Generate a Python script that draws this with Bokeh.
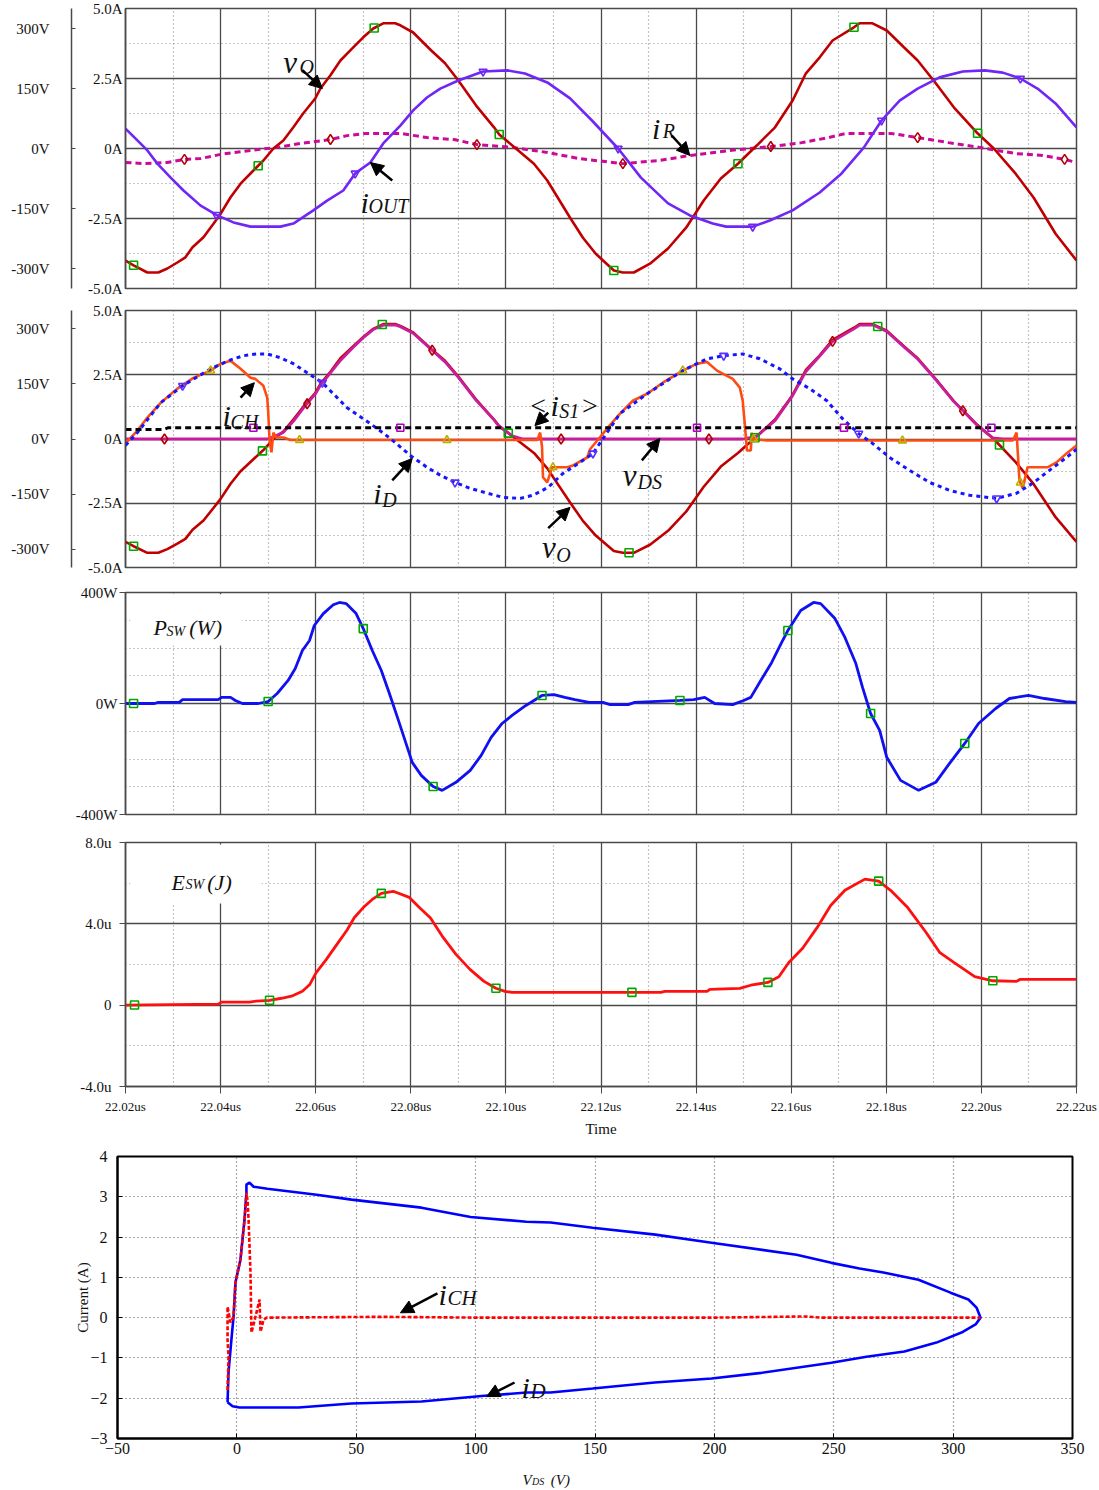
import numpy as np
from bokeh.plotting import figure
from bokeh.layouts import column
from bokeh.models import (Range1d, LinearAxis, FixedTicker, Grid, Label, Arrow,
                          NormalHead, BoxAnnotation)
from bokeh.embed import file_html
from bokeh.resources import INLINE

SERIF = "Liberation Serif"
MAJ = "#4a4a4a"
MINC = "#8a8a8a"

# ---------------- time axis (ns after 22.00 us) ----------------
time_major = [20, 40, 60, 80, 100, 120, 140, 160, 180, 200, 220]
time_minor = [30, 50, 70, 90, 110, 130, 150, 170, 190, 210]
time_labels = ["22.02us", "22.04us", "22.06us", "22.08us", "22.10us", "22.12us",
               "22.14us", "22.16us", "22.18us", "22.20us", "22.22us"]

# ---------------- panel 1 / 2 : output voltage v_O (V) ----------------
t_vo = [20.0, 21.7, 24.6, 26.9, 28.8, 30.9, 32.6, 34.1, 36.4, 38.5,
        40.0, 42.1, 44.2, 46.9, 49.0, 51.1, 53.2, 55.3, 57.4, 59.9,
        61.0, 63.1, 65.2, 67.9, 70.0, 72.1, 74.2, 76.7, 77.8, 80.5,
        84.3, 87.2, 90.0, 93.7, 97.5, 98.6, 102.1, 105.9, 108.7, 113.5,
        116.2, 118.9, 122.7, 124.6, 126.9, 130.3, 134.1, 137.9, 141.6, 145.2,
        148.8, 152.8, 156.6, 160.3, 163.1, 166.0, 168.7, 173.2, 174.4, 177.1,
        180.1, 183.7, 186.6, 190.4, 194.2, 199.2, 202.6, 207.2, 211.0, 215.6,
        220.0]
v_o = [-280, -292, -310, -310, -300, -285, -272, -247, -222, -188,
       -163, -122, -88, -55, -30, 0, 20, 53, 88, 125,
       150, 183, 220, 253, 278, 300, 313, 313, 308, 290,
       245, 213, 170, 108, 53, 35, 0, -38, -80, -173,
       -223, -263, -305, -310, -310, -288, -250, -198, -130, -75,
       -38, 8, 53, 120, 188, 228, 270, 303, 313, 313,
       295, 253, 220, 163, 103, 38, 0, -63, -123, -213,
       -280]

# output current i_OUT (A)
t_iout = [20.0, 22.5, 24.6, 26.7, 29.5, 32.2, 35.8, 39.3, 42.7, 46.3,
          52.6, 55.3, 59.5, 62.4, 65.8, 68.3, 71.5, 74.2, 77.8, 80.5,
          83.4, 86.2, 90.0, 95.2, 100.3, 104.0, 108.7, 113.5, 118.1, 123.6,
          128.4, 134.1, 138.7, 143.5, 146.3, 151.9, 155.5, 160.3, 166.0, 170.6,
          175.3, 179.0, 182.8, 186.6, 191.2, 196.1, 200.7, 204.5, 208.2, 211.8,
          215.6, 220.0]
i_out = [0.71, 0.29, -0.07, -0.54, -1.04, -1.5, -2.04, -2.39, -2.64, -2.79,
         -2.79, -2.68, -2.21, -1.86, -1.5, -0.89, -0.5, 0.18, 0.82, 1.36,
         1.82, 2.14, 2.43, 2.75, 2.79, 2.68, 2.36, 1.79, 1.0, 0.0,
         -1.04, -1.96, -2.39, -2.68, -2.79, -2.79, -2.57, -2.21, -1.57, -0.89,
         0.04, 1.0, 1.71, 2.14, 2.54, 2.75, 2.79, 2.71, 2.5, 2.14,
         1.61, 0.75]

# resistor current i_R (A)
t_ir = [20.0, 23.8, 28.8, 32.4, 35.8, 40.0, 46.3, 51.9, 56.8, 63.1,
        66.6, 70.8, 77.8, 83.4, 89.1, 93.9, 101.3, 108.7, 115.4, 124.6,
        132.2, 138.7, 147.1, 155.7, 162.2, 167.9, 171.5, 180.9, 186.6, 193.1,
        199.6, 207.2, 212.9, 217.5, 220.0]
i_r = [-0.5, -0.54, -0.5, -0.39, -0.36, -0.21, -0.07, 0.04, 0.18, 0.32,
       0.46, 0.54, 0.54, 0.39, 0.32, 0.14, 0.04, -0.14, -0.36, -0.54,
       -0.43, -0.25, -0.07, 0.07, 0.21, 0.39, 0.54, 0.54, 0.39, 0.21,
       0.04, -0.18, -0.25, -0.39, -0.5]

# ---------------- panel 2 ----------------
t_vds = [20.0, 49.8, 51.1, 53.2, 55.3, 57.4, 59.9, 61.0, 63.1, 65.2,
         67.9, 70.0, 72.1, 74.2, 76.7, 77.8, 80.5, 84.3, 87.2, 90.0,
         93.7, 97.5, 98.6, 101.5, 103.6, 149.8, 152.8, 156.6, 160.3, 163.1,
         166.0, 168.7, 173.2, 174.4, 177.1, 180.1, 183.7, 186.6, 190.4, 194.2,
         199.2, 202.4, 204.5, 220.0]
v_ds = [0, 0, 6, 18, 48, 84, 122, 146, 180, 214,
        250, 276, 298, 310, 311, 306, 288, 244, 210, 168,
        106, 52, 34, 8, 0, 0, 8, 50, 118, 184,
        226, 266, 300, 310, 311, 293, 251, 218, 162, 102,
        36, 3, 0, 0]

t_ich = [20.0, 22.5, 24.6, 27.4, 30.9, 34.3, 37.9, 40.0, 42.1, 44.2,
         46.3, 47.3, 49.0, 49.8, 50.0, 50.3, 50.7, 51.1, 51.7, 53.2,
         54.7, 106.6, 107.2, 107.6, 107.8, 108.7, 109.7, 112.9, 114.1, 117.1,
         117.7, 121.3, 124.0, 126.7, 129.7, 133.0, 137.2, 140.2, 142.3, 144.4,
         147.7, 149.2, 149.8, 150.3, 150.7, 151.5, 151.7, 151.9, 154.9, 206.6,
         207.4, 208.0, 208.7, 209.7, 213.9, 215.8, 217.9, 220.0]
i_ch = [-0.17, 0.33, 0.83, 1.41, 1.96, 2.38, 2.66, 2.93, 3.04, 2.73,
        2.38, 2.34, 2.07, 1.61, 1.1, -0.06, -0.52, 0.25, 0.06, 0.06,
        -0.04, -0.04, 0.25, -0.3, -1.49, -1.69, -1.1, -1.1, -1.03, -0.72,
        -0.4, 0.41, 0.99, 1.49, 1.76, 2.19, 2.66, 2.93, 3.0, 2.66,
        2.34, 2.0, 1.49, 0.45, -0.45, -0.45, 0.25, 0.0, -0.06, -0.06,
        0.25, -1.61, -1.92, -1.1, -1.1, -0.91, -0.56, -0.25]

t_id = [20.0, 22.5, 27.4, 32.0, 37.9, 42.1, 44.8, 47.7, 49.8, 52.6,
        55.3, 58.2, 61.4, 63.7, 66.6, 70.0, 72.9, 75.7, 79.9, 83.4,
        86.2, 89.3, 92.5, 96.1, 99.4, 103.0, 105.7, 108.9, 112.0, 115.6,
        118.3, 124.0, 129.7, 137.2, 142.3, 145.8, 149.8, 153.4, 157.6, 160.3,
        163.9, 167.5, 170.8, 174.2, 177.1, 180.7, 184.9, 189.1, 193.3, 197.5,
        203.2, 207.4, 210.8, 214.3, 217.9, 220.0]
i_d = [-0.25, 0.25, 1.41, 2.07, 2.73, 3.08, 3.24, 3.31, 3.31, 3.16,
       2.93, 2.58, 2.19, 1.76, 1.22, 0.79, 0.41, 0.02, -0.64, -1.1,
       -1.41, -1.69, -1.92, -2.11, -2.27, -2.31, -2.19, -1.88, -1.34, -0.91,
       -0.56, 0.99, 1.76, 2.66, 3.12, 3.24, 3.31, 3.12, 2.73, 2.34,
       1.96, 1.49, 0.79, 0.21, -0.17, -0.72, -1.22, -1.69, -2.0, -2.19,
       -2.31, -2.11, -1.72, -1.22, -0.72, -0.4]

t_is1 = [20.0, 28.0, 29.0, 220.0]
i_s1 = [0.37, 0.37, 0.44, 0.44]

# ---------------- panel 3 : switching power (W) ----------------
t_psw = [20.0, 26.1, 26.9, 31.3, 32.0, 39.5, 40.2, 42.1, 43.1, 44.6,
         47.9, 50.0, 51.9, 54.2, 55.7, 57.2, 58.7, 59.7, 61.6, 63.7,
         65.0, 66.4, 68.5, 70.0, 71.9, 73.8, 75.5, 77.4, 80.3, 82.2,
         84.7, 86.6, 89.5, 92.5, 94.8, 96.9, 99.2, 101.3, 104.2, 107.6,
         110.1, 112.4, 114.5, 117.5, 120.4, 121.9, 125.7, 127.1, 130.7, 136.6,
         139.5, 141.8, 143.9, 147.7, 150.0, 151.5, 153.6, 155.9, 158.0, 159.3,
         162.0, 164.7, 166.2, 169.2, 171.3, 173.6, 175.0, 176.7, 178.6, 180.1,
         183.0, 186.8, 190.4, 193.3, 196.5, 199.4, 203.0, 205.9, 209.9, 213.3,
         217.7, 220.0]
p_sw = [0, 0, 4, 4, 14, 14, 22, 22, 11, 0,
        0, 7, 36, 83, 126, 191, 227, 281, 324, 356,
        364, 360, 324, 270, 191, 119, 36, -61, -212, -259,
        -299, -313, -284, -241, -187, -122, -72, -43, -7, 29,
        32, 22, 14, 4, 4, -4, -4, 4, 7, 11,
        14, 22, 0, -4, 11, 22, 83, 148, 220, 263,
        335, 364, 360, 306, 238, 144, 58, -36, -97, -194,
        -277, -313, -284, -216, -144, -72, -18, 18, 29, 18,
        7, 4]

# ---------------- panel 4 : switching energy (uJ) ----------------
t_esw = [20.0, 39.5, 40.2, 46.1, 47.5, 50.3, 52.8, 54.9, 57.2, 58.7,
         60.1, 62.2, 64.5, 66.6, 68.1, 70.0, 71.9, 73.8, 76.3, 79.7,
         81.8, 84.1, 86.6, 89.5, 92.5, 95.4, 97.9, 99.8, 101.3, 132.6,
         133.4, 142.3, 142.9, 149.2, 151.5, 155.1, 157.4, 159.5, 162.4, 165.4,
         168.3, 171.3, 175.5, 178.4, 180.9, 184.5, 188.3, 191.2, 194.2, 198.6,
         202.4, 207.4, 208.2, 220.0]
e_sw = [0, 0.05, 0.15, 0.15, 0.2, 0.24, 0.34, 0.44, 0.68, 1.0,
        1.6, 2.24, 3.0, 3.7, 4.3, 4.8, 5.2, 5.5, 5.6, 5.3,
        4.8, 4.3, 3.4, 2.5, 1.75, 1.17, 0.83, 0.68, 0.63, 0.63,
        0.68, 0.68, 0.78, 0.83, 0.98, 1.12, 1.4, 2.1, 2.8, 3.8,
        4.9, 5.65, 6.2, 6.1, 5.65, 4.8, 3.6, 2.6, 2.1, 1.4,
        1.2, 1.17, 1.27, 1.27]

# ---------------- panel 5 : I-V trajectory ----------------
vds_id = [-3.9, -1.8, 1.1, 25.8, 48, 77.3, 103.7, 121.3, 131.4, 149,
          175, 198.8, 219.7, 249, 263.7, 279.6, 293, 303.5, 309.4, 311.5,
          309.8, 306.4, 298.9, 285.5, 270.8, 260.8, 249, 234.4, 198.8, 175.3,
          149, 131.4, 121.3, 97.9, 77.3, 48, 33.4, 12.8, 7, 5.3,
          4.0, 4.0, 3.2, 1.5, -0.6, -1.4, -2.3, -3.5, -3.9]
id_loop = [-2.1, -2.2, -2.23, -2.23, -2.13, -2.08, -1.94, -1.86, -1.86, -1.76,
           -1.61, -1.51, -1.37, -1.12, -0.97, -0.84, -0.62, -0.37, -0.17, 0.0,
           0.25, 0.45, 0.62, 0.94, 1.12, 1.22, 1.36, 1.56, 1.86, 2.06,
           2.23, 2.36, 2.38, 2.5, 2.73, 2.93, 3.05, 3.2, 3.25, 3.35,
           3.3, 3.1, 2.43, 1.44, 0.87, 0.02, -0.55, -1.36, -2.1]
vds_ich = [-3.9, -3.5, -3.9, -3.9, -2.7, -1.4, -0.6, 1.5, 3.2, 4.0,
           4.5, 4.9, 5.7, 6.1, 7.5, 9.5, 9.9, 11.2, 12.5, 60,
           100, 200, 238, 245, 311.5]
ich_loop = [-1.8, -0.97, -0.55, 0.27, -0.12, 0.02, 0.87, 1.44, 2.43, 3.1,
            2.9, 2.43, 1.12, -0.37, -0.05, 0.45, -0.35, -0.05, 0.0, 0.02,
            0.0, 0.0, 0.03, 0.0, 0.0]

# ---------------- marker times (ns) ----------------
mk_vo1 = [21.7, 47.9, 72.3, 98.6, 122.7, 148.8, 173.2, 199.2]
mk_iout = [39.1, 68.3, 95.2, 123.6, 151.9, 179.0, 208.2]
mk_ir = [32.4, 63.1, 93.9, 124.6, 155.7, 186.6, 217.5]
mk_vo2 = [21.7, 48.8, 74.0, 100.5, 125.9, 152.4, 178.2, 203.8]
mk_id = [32.0, 61.4, 89.3, 118.3, 145.8, 174.2, 203.2]
mk_is1 = [46.9, 77.8, 140.2, 171.1, 202.1]
mk_vds = [28.2, 58.2, 84.5, 111.6, 142.7, 168.7, 196.1]
mk_ich = [37.9, 56.6, 87.6, 109.9, 137.2, 152.1, 183.4, 208.2]
mk_psw = [21.7, 50.0, 70.0, 84.7, 107.6, 136.6, 159.3, 176.7, 196.5]
mk_esw = [21.9, 50.3, 73.8, 97.9, 126.5, 155.1, 178.4, 202.4]

# ---------------- colours ----------------
C_VO = "#c00000"
C_IOUT = "#7026f5"
C_IR = "#cc0a99"
C_GREEN = "#00a800"
C_VDS = "#c81e9c"
C_ICH = "#ff4d12"
C_ID = "#1515ff"
C_PSW = "#1010f0"
C_ESW = "#ff1010"


def time_fig(height, top, bottom, ys, ye, yticks, yminor):
    p = figure(width=1099, height=height, x_range=Range1d(20, 220),
               y_range=Range1d(ys, ye), x_axis_type=None, y_axis_type=None,
               output_backend="svg", toolbar_location=None,
               min_border_left=125, min_border_right=23,
               min_border_top=top, min_border_bottom=bottom,
               outline_line_color=MAJ, outline_line_width=1.5,
               background_fill_color="white", border_fill_color="white")
    p.add_layout(Grid(dimension=0, ticker=FixedTicker(ticks=time_major, minor_ticks=time_minor),
                      grid_line_color=MAJ, grid_line_width=1.3,
                      minor_grid_line_color=MINC, minor_grid_line_dash="1 3",
                      minor_grid_line_width=1.2))
    p.add_layout(Grid(dimension=1, ticker=FixedTicker(ticks=yticks, minor_ticks=yminor),
                      grid_line_color=MAJ, grid_line_width=1.3,
                      minor_grid_line_color=MINC, minor_grid_line_dash="1 3",
                      minor_grid_line_width=1.2))
    return p


def left_axis(ticks, labels, tick_out=0, standoff=3, pad=0, range_name="default",
              tick_in=0):
    ax = LinearAxis(ticker=FixedTicker(ticks=ticks),
                    major_label_overrides=dict(zip(ticks, labels)),
                    y_range_name=range_name,
                    axis_line_color=MAJ, axis_line_width=1.5,
                    major_tick_line_color=MAJ, major_tick_out=tick_out, major_tick_in=tick_in,
                    minor_tick_out=0, minor_tick_in=0,
                    major_label_standoff=standoff,
                    major_label_text_font=SERIF, major_label_text_font_size="15px",
                    major_label_text_color="#111111")
    if pad:
        ax.axis_label = " "
        ax.axis_label_standoff = pad
        ax.axis_label_text_font_size = "2px"
    return ax


def txt(p, x, y, s, size, style="italic", rn="default"):
    p.add_layout(Label(x=x, y=y, text=s, text_font=SERIF, text_font_size=f"{size}px",
                       text_font_style=style, text_baseline="alphabetic",
                       text_align="left", text_color="#111111", y_range_name=rn))


def arrow(p, x0, y0, x1, y1, rn="default"):
    p.add_layout(Arrow(end=NormalHead(size=13, fill_color="black", line_color="black",
                                      line_width=1),
                       x_start=x0, y_start=y0, x_end=x1, y_end=y1,
                       line_width=2.5, line_color="black", y_range_name=rn))


def marks(p, times, tt, vv, marker, color, rn="default", fill=None, size=8):
    p.scatter(times, np.interp(times, tt, vv), marker=marker, size=size,
              fill_color=fill, line_color=color, line_width=1.6, y_range_name=rn)


A_TICKS = [-5, -2.5, 0, 2.5, 5]
A_LABELS = ["-5.0A", "-2.5A", "0A", "2.5A", "5.0A"]
A_MINOR = [-3.75, -1.25, 1.25, 3.75]
V_TICKS = [-300, -150, 0, 150, 300]
V_LABELS = ["-300V", "-150V", "0V", "150V", "300V"]

# ================= panel 1 =================
p1 = time_fig(298, 8, 10, -5, 5, A_TICKS, A_MINOR)
p1.extra_y_ranges = {"v": Range1d(-350, 350)}
p1.add_layout(left_axis(A_TICKS, A_LABELS, standoff=3, pad=8), "left")
p1.add_layout(left_axis(V_TICKS, V_LABELS, standoff=22, range_name="v", tick_in=4), "left")
p1.line(t_ir, i_r, line_color=C_IR, line_width=3, line_dash="6 4")
p1.line(t_vo, v_o, line_color=C_VO, line_width=2.6, y_range_name="v")
p1.line(t_iout, i_out, line_color=C_IOUT, line_width=2.6)
marks(p1, mk_vo1, t_vo, v_o, "square", C_GREEN, rn="v")
marks(p1, mk_iout, t_iout, i_out, "inverted_triangle", C_IOUT)
marks(p1, mk_ir, t_ir, i_r, "diamond", "#b00000", size=10)
txt(p1, 53.2, 3.07, "v", 31)
txt(p1, 56.6, 2.90, "O", 20)
arrow(p1, 57.2, 2.80, 61.4, 2.14)
txt(p1, 69.4, -1.93, "i", 30)
txt(p1, 71.1, -2.07, "OUT", 20)
arrow(p1, 76.1, -1.14, 71.5, -0.5)
txt(p1, 130.7, 0.71, "i", 30)
txt(p1, 133.0, 0.61, "R", 20)
arrow(p1, 134.9, 0.46, 138.7, -0.25)

# ================= panel 2 =================
p2 = time_fig(282, 12, 13, -5, 5, A_TICKS, A_MINOR)
p2.extra_y_ranges = {"v": Range1d(-350, 350)}
p2.add_layout(left_axis(A_TICKS, A_LABELS, standoff=3, pad=8), "left")
p2.add_layout(left_axis(V_TICKS, V_LABELS, standoff=22, range_name="v", tick_in=4), "left")
p2.line(t_vo, v_o, line_color=C_VO, line_width=2.6, y_range_name="v")
p2.line(t_vds, v_ds, line_color=C_VDS, line_width=2.8, y_range_name="v")
p2.line(t_ich, i_ch, line_color=C_ICH, line_width=2.6)
p2.line(t_id, i_d, line_color=C_ID, line_width=3, line_dash="4 4")
p2.line(t_is1, i_s1, line_color="black", line_width=3, line_dash="6 4")
marks(p2, mk_vo2, t_vo, v_o, "square", C_GREEN, rn="v")
marks(p2, mk_vds, t_vds, v_ds, "diamond", "#b00000", rn="v", size=10)
marks(p2, mk_id, t_id, i_d, "inverted_triangle", "#5a30ff")
marks(p2, mk_is1, t_is1, i_s1, "square", "#b000c0", size=7)
marks(p2, mk_ich, t_ich, i_ch, "triangle", "#b8b000")
txt(p2, 40.4, 0.91, "i", 30)
txt(p2, 42.1, 0.68, "CH", 20)
arrow(p2, 44.2, 1.61, 47.1, 2.19)
txt(p2, 105.1, 1.30, "<", 28, style="normal")
txt(p2, 109.4, 1.30, "i", 30)
txt(p2, 111.2, 1.10, "S1", 20)
txt(p2, 116.0, 1.30, ">", 28, style="normal")
arrow(p2, 108.9, 1.03, 106.1, 0.52)
txt(p2, 72.1, -2.11, "i", 30)
txt(p2, 74.0, -2.38, "D", 20)
arrow(p2, 76.1, -1.61, 80.3, -0.76)
txt(p2, 107.6, -4.24, "v", 31)
txt(p2, 110.6, -4.52, "O", 20)
arrow(p2, 108.9, -3.47, 113.5, -2.66)
txt(p2, 124.6, -1.41, "v", 31)
txt(p2, 127.7, -1.69, "DS", 20)
arrow(p2, 128.6, -0.83, 132.4, 0.02)

# ================= panel 3 =================
p3 = time_fig(250, 12, 16, -400, 400, [-400, 0, 400], [-300, -200, -100, 100, 200, 300])
p3.add_layout(left_axis([-400, 0, 400], ["-400W", "0W", "400W"], tick_out=6, standoff=2), "left")
p3.add_layout(BoxAnnotation(left=21, right=44.6, bottom=209, top=394, fill_color="white",
                            fill_alpha=1, line_color=None, level="underlay"))
p3.line(t_psw, p_sw, line_color=C_PSW, line_width=2.8)
marks(p3, mk_psw, t_psw, p_sw, "square", C_GREEN)
txt(p3, 25.9, 274, "P", 22)
txt(p3, 28.6, 259, "SW", 14)
txt(p3, 33.4, 274, "(W)", 22)

# ================= panel 4 =================
p4 = time_fig(315, 12, 59, -4, 8, [-4, 0, 4, 8], [-2, 2, 6])
p4.add_layout(left_axis([-4, 0, 4, 8], ["-4.0u", "0", "4.0u", "8.0u"], tick_out=6, standoff=8), "left")
xax = LinearAxis(ticker=FixedTicker(ticks=time_major),
                 major_label_overrides=dict(zip(time_major, time_labels)),
                 axis_line_color=MAJ, axis_line_width=1.5, major_tick_line_color=MAJ,
                 major_tick_out=7, major_tick_in=0, minor_tick_out=0, minor_tick_in=0,
                 major_label_standoff=5, major_label_text_font=SERIF,
                 major_label_text_font_size="13px", major_label_text_color="#111111",
                 axis_label="Time", axis_label_standoff=4, axis_label_text_font=SERIF,
                 axis_label_text_font_size="15px", axis_label_text_font_style="normal",
                 axis_label_text_color="#111111")
p4.add_layout(xax, "below")
p4.add_layout(BoxAnnotation(left=21, right=48.6, bottom=5.0, top=7.9, fill_color="white",
                            fill_alpha=1, line_color=None, level="underlay"))
p4.line(t_esw, e_sw, line_color=C_ESW, line_width=2.8)
marks(p4, mk_esw, t_esw, e_sw, "square", C_GREEN)
txt(p4, 29.7, 6.05, "E", 22)
txt(p4, 32.6, 5.93, "SW", 14)
txt(p4, 37.2, 6.05, "(J)", 22)

# ================= panel 5 =================
p5 = figure(width=1099, height=322, x_range=Range1d(-50, 350), y_range=Range1d(-3, 4),
            x_axis_type=None, y_axis_type=None, output_backend="svg", toolbar_location=None,
            min_border_left=117, min_border_right=27, min_border_top=11, min_border_bottom=29,
            outline_line_color="black", outline_line_width=2,
            background_fill_color="white", border_fill_color="white")
vx_ticks = [-50, 0, 50, 100, 150, 200, 250, 300, 350]
iy_ticks = [-3, -2, -1, 0, 1, 2, 3, 4]
p5.add_layout(Grid(dimension=0, ticker=FixedTicker(ticks=vx_ticks), grid_line_color="#555555",
                   grid_line_dash="1 3", grid_line_width=1.2))
p5.add_layout(Grid(dimension=1, ticker=FixedTicker(ticks=iy_ticks), grid_line_color="#555555",
                   grid_line_dash="1 3", grid_line_width=1.2))
bx = LinearAxis(ticker=FixedTicker(ticks=vx_ticks), axis_line_color="black", axis_line_width=2,
                major_tick_in=5, major_tick_out=0, minor_tick_in=0, minor_tick_out=0,
                major_label_standoff=4, major_label_text_font=SERIF,
                major_label_text_font_size="16px", major_label_text_color="#111111")
p5.add_layout(bx, "below")
ly = LinearAxis(ticker=FixedTicker(ticks=iy_ticks), axis_line_color="black", axis_line_width=2,
                major_tick_in=5, major_tick_out=0, minor_tick_in=0, minor_tick_out=0,
                major_label_standoff=10, major_label_text_font=SERIF,
                major_label_text_font_size="16px", major_label_text_color="#111111",
                axis_label="Current (A)", axis_label_standoff=-4, axis_label_text_font=SERIF,
                axis_label_text_font_size="15px", axis_label_text_font_style="normal",
                axis_label_text_color="#111111")
p5.add_layout(ly, "left")
p5.line(vds_id, id_loop, line_color="#0000ff", line_width=2.6)
p5.line(vds_ich, ich_loop, line_color="#ff0000", line_width=2.6, line_dash="4 2")
txt(p5, 84.5, 0.57, "i", 30)
txt(p5, 88.2, 0.50, "CH", 21)
arrow(p5, 84.0, 0.60, 68.5, 0.12)
txt(p5, 119.2, -1.74, "i", 30)
txt(p5, 123.0, -1.81, "D", 21)
arrow(p5, 116.3, -1.61, 104.6, -1.96)

# x-axis title strip for panel 5 (same horizontal scale, V)
p6 = figure(width=1099, height=23, x_range=Range1d(-50, 350), y_range=Range1d(0, 23),
            x_axis_type=None, y_axis_type=None, output_backend="svg", toolbar_location=None,
            min_border_left=117, min_border_right=27, min_border_top=0, min_border_bottom=0,
            outline_line_color=None, background_fill_color="white", border_fill_color="white")
txt(p6, 119.6, 11, "V", 15)
txt(p6, 123.6, 9, "DS", 10)
txt(p6, 131.5, 11, "(V)", 15)

layout = column(column(p1, p2, p3, p4, spacing=0), column(p5, p6, spacing=0), spacing=0)
open("out.html", "w").write(file_html(layout, INLINE, "chart"))
